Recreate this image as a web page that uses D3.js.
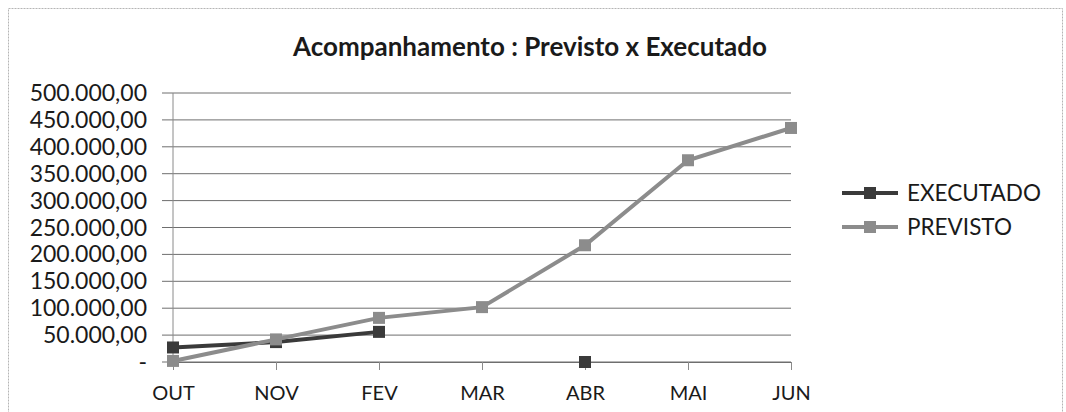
<!DOCTYPE html>
<html>
<head>
<meta charset="utf-8">
<script src="https://cdn.jsdelivr.net/npm/d3@7"></script>
<style>
  body { margin: 0; background: #fff; }
  text { font-family: Lato, "Open Sans", sans-serif; fill: #1a1a1a; }
</style>
</head>
<body>
<svg></svg>
<script>
var width = 1066;
var height = 412;

var months = ["OUT", "NOV", "FEV", "MAR", "ABR", "MAI", "JUN"];
var executado = [27000, 37000, 56000, null, 0, null, null];
var previsto = [2000, 42000, 82000, 102000, 217000, 375000, 435000];
var yTicks = [0, 50000, 100000, 150000, 200000, 250000, 300000, 350000, 400000, 450000, 500000];

var svg = d3.select('svg')
    .attr('width', width)
    .attr('height', height);

// chart border
svg.append('rect')
    .attr('x', 8.5).attr('y', 8.5)
    .attr('width', 1054).attr('height', 410)
    .attr('fill', 'none')
    .attr('stroke', '#b5b5b5')
    .attr('stroke-dasharray', '2,1');

svg.append('text')
    .attr('x', 530).attr('y', 56)
    .attr('text-anchor', 'middle')
    .style('font-size', '26px')
    .style('font-weight', 'bold')
    .text('Acompanhamento : Previsto x Executado');

var x = d3.scalePoint().domain(months).range([173, 791]);
var y = d3.scaleLinear().domain([0, 500000]).range([362, 93]);

var fmt = function (v) {
  if (v === 0) return '-';
  return d3.format(',.2f')(v).replace(/,/g, '#').replace('.', ',').replace(/#/g, '.');
};

// gridlines
svg.append('g')
    .selectAll('line')
    .data(yTicks)
    .enter().append('line')
    .attr('x1', 162).attr('x2', 791)
    .attr('y1', function (d) { return y(d); })
    .attr('y2', function (d) { return y(d); })
    .attr('stroke', '#6e6e6e')
    .attr('stroke-width', 1);

// y labels
svg.append('g')
    .selectAll('text')
    .data(yTicks)
    .enter().append('text')
    .attr('x', 147)
    .attr('y', function (d) { return y(d) + 8; })
    .attr('text-anchor', 'end')
    .style('font-size', '23px')
    .text(fmt);

// axes lines
svg.append('line')
    .attr('x1', 173).attr('x2', 173).attr('y1', 93).attr('y2', 362)
    .attr('stroke', '#8a8a8a');

var xAxis = svg.append('g')
    .attr('transform', 'translate(0,' + y(0) + ')')
    .call(d3.axisBottom(x).tickSize(8).tickSizeOuter(0).tickPadding(16));
xAxis.select('.domain').attr('stroke', '#6e6e6e');
xAxis.selectAll('.tick line').attr('stroke', '#8a8a8a');
xAxis.selectAll('.tick text')
    .style('font-size', '20px')
    .style('font-family', 'Lato, sans-serif')
    .attr('fill', '#1a1a1a');

var series = [
  { name: 'EXECUTADO', values: executado, color: '#3a3a3a' },
  { name: 'PREVISTO', values: previsto, color: '#8c8c8c' }
];

var line = d3.line()
    .defined(function (d) { return d.v !== null; })
    .x(function (d) { return x(d.m); })
    .y(function (d) { return y(d.v); });

series.forEach(function (s) {
  var pts = s.values.map(function (v, i) { return { m: months[i], v: v }; });
  svg.append('path')
      .datum(pts)
      .attr('d', line)
      .attr('fill', 'none')
      .attr('stroke', s.color)
      .attr('stroke-width', 4);
  svg.append('g')
      .selectAll('rect')
      .data(pts.filter(function (d) { return d.v !== null; }))
      .enter().append('rect')
      .attr('x', function (d) { return x(d.m) - 6; })
      .attr('y', function (d) { return y(d.v) - 6; })
      .attr('width', 12).attr('height', 12)
      .attr('fill', s.color);
});

// legend
var legend = svg.append('g')
    .selectAll('g')
    .data(series)
    .enter().append('g')
    .attr('transform', function (d, i) { return 'translate(842,' + (193 + i * 34) + ')'; });
legend.append('line')
    .attr('x1', 0).attr('x2', 56)
    .attr('stroke', function (d) { return d.color; })
    .attr('stroke-width', 4);
legend.append('rect')
    .attr('x', 22).attr('y', -6).attr('width', 12).attr('height', 12)
    .attr('fill', function (d) { return d.color; });
legend.append('text')
    .attr('x', 65).attr('y', 8)
    .style('font-size', '22.5px')
    .text(function (d) { return d.name; });
</script>
</body>
</html>
